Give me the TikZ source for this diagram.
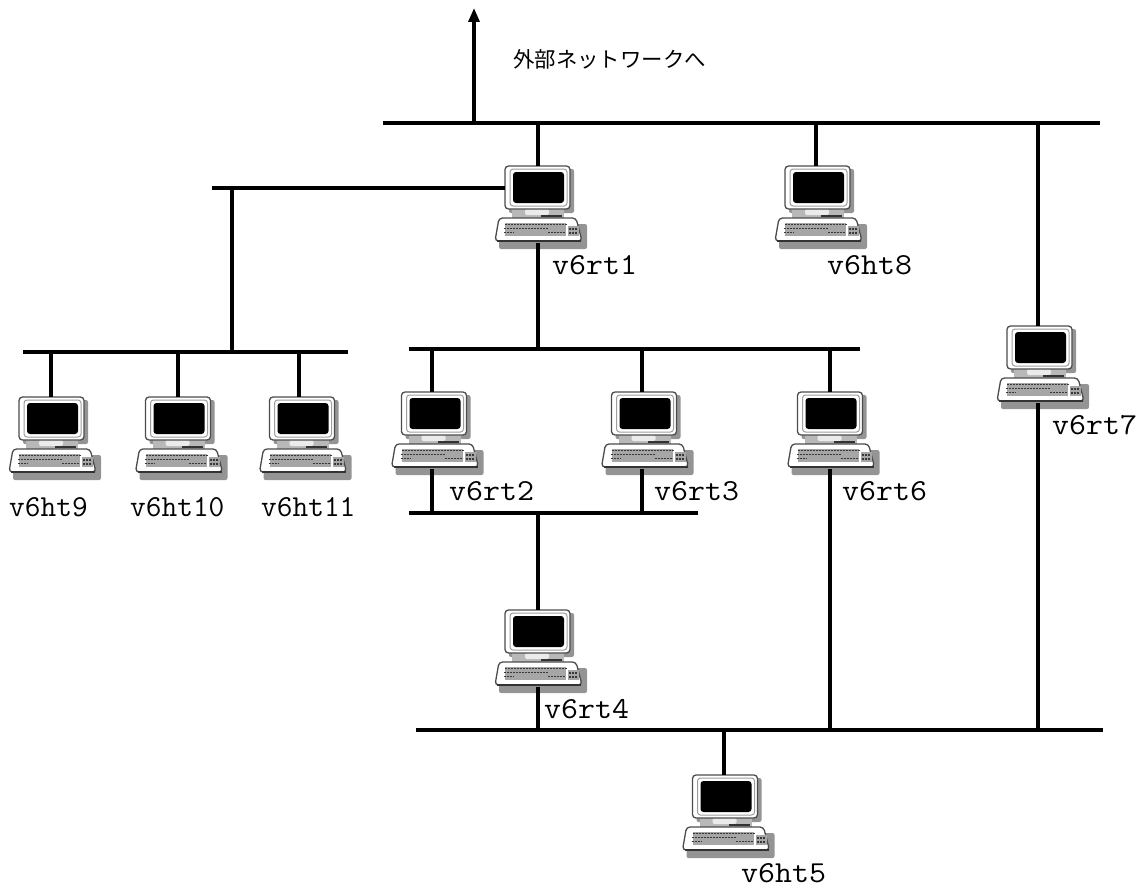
\documentclass[tikz,border=0pt]{standalone}
\usepackage{fontspec}
\usetikzlibrary{arrows.meta}
\newfontfamily\cjk{Noto Sans CJK JP}
\newcommand{\widelabel}[1]{\scalebox{1.08}[1]{#1}}
\tikzset{
  x=1pt,y=-1pt,
  wire/.style={line width=3.3pt,black},
  hostname/.style={inner sep=0pt,anchor=base west,font=\fontsize{30.5}{32}\selectfont\ttfamily},
  hostbox/.style={inner sep=0pt,minimum width=0pt,minimum height=77pt,outer sep=0pt},
  iconshadow/.style={fill=black!42,draw=none},
  iconcase/.style={fill=white,draw=black!70,line width=1.3pt},
  keyrow/.style={black!78,line width=1.8pt,dash pattern=on 2pt off 1pt},
}
% \computer{node name}{wire x}{icon centre x}{icon top y}
\newcommand{\computer}[4]{%
  \node[hostbox] (#1) at (#2,#4+38.5) {};
  \begin{scope}[shift={(#3,#4)}]
    \fill[iconshadow,rounded corners=2pt] (-29,3) rectangle (36,47);
    \fill[iconshadow,rounded corners=2pt] (-39,58) rectangle (49,83);
    \fill[black!28] (-26,43) rectangle (26,52);
    \fill[black!8,rounded corners=2pt] (-13,43) rectangle (11,49);
    \draw[iconcase,rounded corners=3.5pt] (-33,0) rectangle (32,43);
    \draw[black!38,line width=1pt,rounded corners=3pt] (-28,3) rectangle (29,40);
    \fill[black,rounded corners=3pt] (-25,6) rectangle (26,37);
    \draw[black!80,line width=1.6pt] (3,50) -- (24,50);
    \draw[iconcase,rounded corners=3.5pt] (-39,52) -- (38,52) -- (44,75) -- (-43,75) -- cycle;
    \draw[black!80,line width=1.5pt] (-41,75.2) -- (43,75.2);
    \fill[black!35] (-33,57) rectangle (28,70);
    \fill[black!35] (30,60) rectangle (41,70);
    \draw[keyrow] (-33,58.5) -- (29,58.5);
    \draw[keyrow] (-34,62.5) -- (10,62.5);
    \draw[keyrow] (-34,66.5) -- (-24,66.5);
    \draw[keyrow] (10,66.5) -- (28,66.5);
    \draw[keyrow] (31,63) -- (40,63);
    \draw[keyrow] (31,67) -- (40,67);
  \end{scope}
}
\begin{document}
\begin{tikzpicture}
\useasboundingbox (0,0) rectangle (1147,888);
% bus end points and free ends
\coordinate (topL) at (383,123);   \coordinate (topR) at (1100,123);
\coordinate (leftT) at (212,188);
\coordinate (rt1w) at (505,188);
\coordinate (hostL) at (23,352);   \coordinate (hostR) at (348,352);
\coordinate (midL) at (409,349);   \coordinate (midR) at (860,349);
\coordinate (lowL) at (409,513);   \coordinate (lowR) at (698,513);
\coordinate (botL) at (416,730);   \coordinate (botR) at (1103,730);
\coordinate (ext) at (474,8);
\coordinate (hostT) at (232,188);
% computers
\computer{rt1}{538}{538}{166}
\computer{ht8}{816}{818}{166}
\computer{rt7}{1038}{1040}{326}
\computer{ht9}{51}{52}{397}
\computer{ht10}{178}{178.5}{397}
\computer{ht11}{299}{302.5}{397}
\computer{rt2}{432}{434.5}{392}
\computer{rt3}{642}{644.5}{392}
\computer{rt6}{830}{830.5}{392}
\computer{rt4}{538}{538}{610}
\computer{ht5}{724}{725.5}{775}
% buses
\draw[wire] (topL) -- (topR);
\draw[wire] (leftT) -- (rt1w);
\draw[wire] (hostL) -- (hostR);
\draw[wire] (midL) -- (midR);
\draw[wire] (lowL) -- (lowR);
\draw[wire] (botL) -- (botR);
% connectors
\draw[wire,-{Triangle[length=14pt,width=11pt]}] (topL -| ext) -- (ext);
\draw[wire] (topL -| rt1.north) -- (rt1.north);
\draw[wire] (topL -| ht8.north) -- (ht8.north);
\draw[wire] (topL -| rt7.north) -- (rt7.north);
\draw[wire] (rt7.south) -- (botL -| rt7.south);
\draw[wire] (rt1.south) -- (midL -| rt1.south);
\draw[wire] (hostT) -- (hostL -| hostT);
\draw[wire] (hostL -| ht9.north) -- (ht9.north);
\draw[wire] (hostL -| ht10.north) -- (ht10.north);
\draw[wire] (hostL -| ht11.north) -- (ht11.north);
\draw[wire] (midL -| rt2.north) -- (rt2.north);
\draw[wire] (midL -| rt3.north) -- (rt3.north);
\draw[wire] (midL -| rt6.north) -- (rt6.north);
\draw[wire] (rt2.south) -- (lowL -| rt2.south);
\draw[wire] (rt3.south) -- (lowL -| rt3.south);
\draw[wire] (rt6.south) -- (botL -| rt6.south);
\draw[wire] (lowL -| rt4.north) -- (rt4.north);
\draw[wire] (rt4.south) -- (botL -| rt4.south);
\draw[wire] (botL -| ht5.north) -- (ht5.north);
% labels
\node[inner sep=0pt,anchor=west,font=\cjk\fontsize{21.4}{24}\selectfont] (ext label) at (513,59) {外部ネットワークへ};
\node[hostname] (l1) at (552,274) {\widelabel{v6rt1}};
\node[hostname] (l8) at (827,274) {\widelabel{v6ht8}};
\node[hostname] (l7) at (1052,434) {\widelabel{v6rt7}};
\node[hostname] (l9) at (9,516) {v6ht9};
\node[hostname] (l10) at (130,516) {v6ht10};
\node[hostname] (l11) at (261,516) {v6ht11};
\node[hostname] (l2) at (449,500) {\widelabel{v6rt2}};
\node[hostname] (l3) at (654,500) {\widelabel{v6rt3}};
\node[hostname] (l6) at (842,500) {\widelabel{v6rt6}};
\node[hostname] (l4) at (544,718) {\widelabel{v6rt4}};
\node[hostname] (l5) at (741,882) {\widelabel{v6ht5}};
\end{tikzpicture}
\end{document}
